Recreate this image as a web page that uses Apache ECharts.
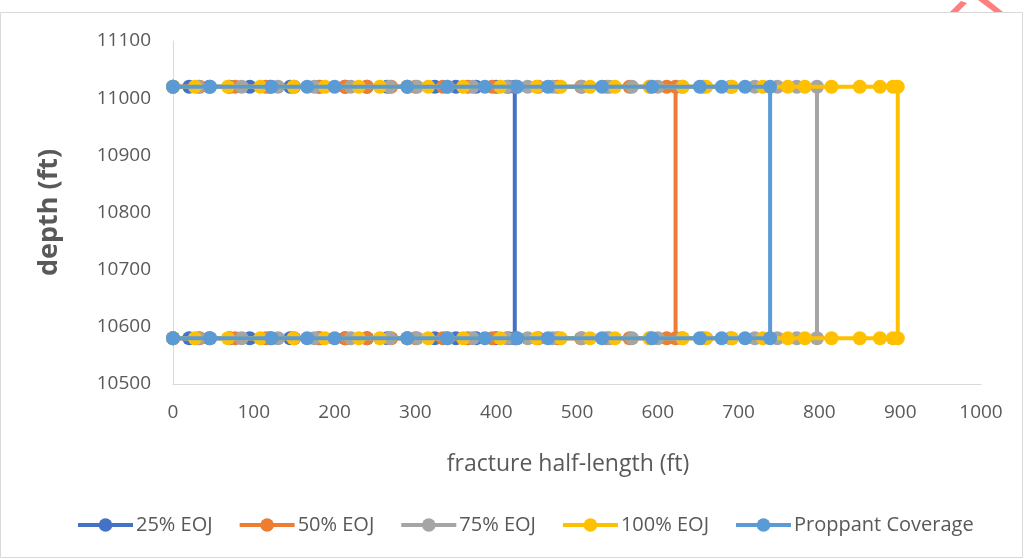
<!DOCTYPE html>
<html>
<head>
<meta charset="utf-8">
<script src="https://cdn.jsdelivr.net/npm/echarts@6/dist/echarts.min.js"></script>
<style>
html,body{margin:0;padding:0;background:#fff;}
#chart{width:1024px;height:559px;}
</style>
</head>
<body>
<div id="chart"></div>
<script>
// ---- data ----
var topDepth = 11020;
var bottomDepth = 10580;
var seriesNames = ['25% EOJ', '50% EOJ', '75% EOJ', '100% EOJ', 'Proppant Coverage'];
var eoj25 = [0, 20, 45, 70, 95, 120, 145, 180, 213, 240, 265, 290, 324, 350, 375, 400, 415, 423];
var eoj50 = [0, 33, 77, 115, 150, 182, 213, 240, 270, 300, 334, 365, 395, 425, 452, 476, 505, 537, 565, 590, 611, 622];
var eoj75 = [0, 31, 85, 130, 175, 220, 268, 302, 340, 371, 413, 439, 470, 506, 540, 568, 600, 630, 656, 690, 720, 748, 772, 797];
var eoj100 = [0, 27, 68, 108, 149, 188, 230, 256, 290, 316, 359, 405, 450, 480, 516, 547, 590, 631, 660, 692, 730, 761, 782, 815, 850, 875, 891, 897];
var proppant = [0, 46, 122, 166, 200, 290, 339, 386, 426, 464, 531, 593, 652, 679, 708, 739];
var xTicks = [0, 100, 200, 300, 400, 500, 600, 700, 800, 900, 1000];
var yTicks = [10500, 10600, 10700, 10800, 10900, 11000, 11100];
var colors = ['#4472C4', '#ED7D31', '#A5A5A5', '#FFC000', '#5B9BD5'];

function loop(xs) {
  var d = xs.map(function (x) { return [x, topDepth]; });
  for (var i = xs.length - 1; i >= 0; i--) d.push([xs[i], bottomDepth]);
  return d;
}
var allData = [eoj25, eoj50, eoj75, eoj100, proppant];

var chart = echarts.init(document.getElementById('chart'), null, {renderer: 'canvas'});
var font = '"Open Sans", sans-serif';
var option = {
  animation: false,
  color: colors,
  grid: {left: 173, right: 43, top: 41, bottom: 175, containLabel: false},
  xAxis: {
    type: 'value', min: xTicks[0], max: xTicks[xTicks.length - 1], interval: 100,
    name: 'fracture half-length (ft)', nameLocation: 'middle', nameGap: 69,
    nameTextStyle: {fontFamily: font, fontSize: 23, color: '#595959', padding: [0, 18, 0, 0]},
    axisLine: {show: true, lineStyle: {color: '#d9d9d9', width: 1}},
    axisTick: {show: false},
    splitLine: {show: false},
    axisLabel: {fontFamily: font, fontSize: 19, color: '#595959', margin: 19,
      formatter: function (v) { return String(v); }}
  },
  yAxis: {
    type: 'value', min: yTicks[0], max: yTicks[yTicks.length - 1], interval: 100,
    name: 'depth (ft)', nameLocation: 'middle', nameGap: 110, nameRotate: 90,
    nameTextStyle: {fontFamily: font, fontSize: 27, fontWeight: 'bold', color: '#595959'},
    axisLine: {show: true, lineStyle: {color: '#d9d9d9', width: 1}},
    axisTick: {show: false},
    splitLine: {show: false},
    axisLabel: {fontFamily: font, fontSize: 19, color: '#595959', margin: 22,
      formatter: function (v) { return String(v); }}
  },
  legend: {
    bottom: 19, left: 71, itemGap: 25, itemWidth: 55, itemHeight: 17,
    textStyle: {fontFamily: font, fontSize: 20, color: '#595959', padding: [0, 0, 0, -2]},
    lineStyle: {width: 4},
    data: seriesNames
  },
  series: allData.map(function (xs, i) {
    return {
      name: seriesNames[i], type: 'line', data: loop(xs), smooth: 0.15,
      symbol: 'circle', symbolSize: 14, showSymbol: true,
      lineStyle: {width: 4, color: colors[i]},
      itemStyle: {color: colors[i]},
      z: 2 + i
    };
  }),
  graphic: [
    {type: 'rect', shape: {x: 0.5, y: 12.5, width: 1022, height: 545}, style: {fill: 'none', stroke: '#d9d9d9', lineWidth: 1}, silent: true},
    {type: 'polygon', shape: {points: [[950, 12], [958, 12], [967, 3], [961, 1]]}, style: {fill: '#ff7f7f'}, silent: true},
    {type: 'polygon', shape: {points: [[978, 0], [988, 0], [1003, 12], [994, 12]]}, style: {fill: '#ff7f7f'}, silent: true}
  ]
};
chart.setOption(option);
</script>
</body>
</html>
